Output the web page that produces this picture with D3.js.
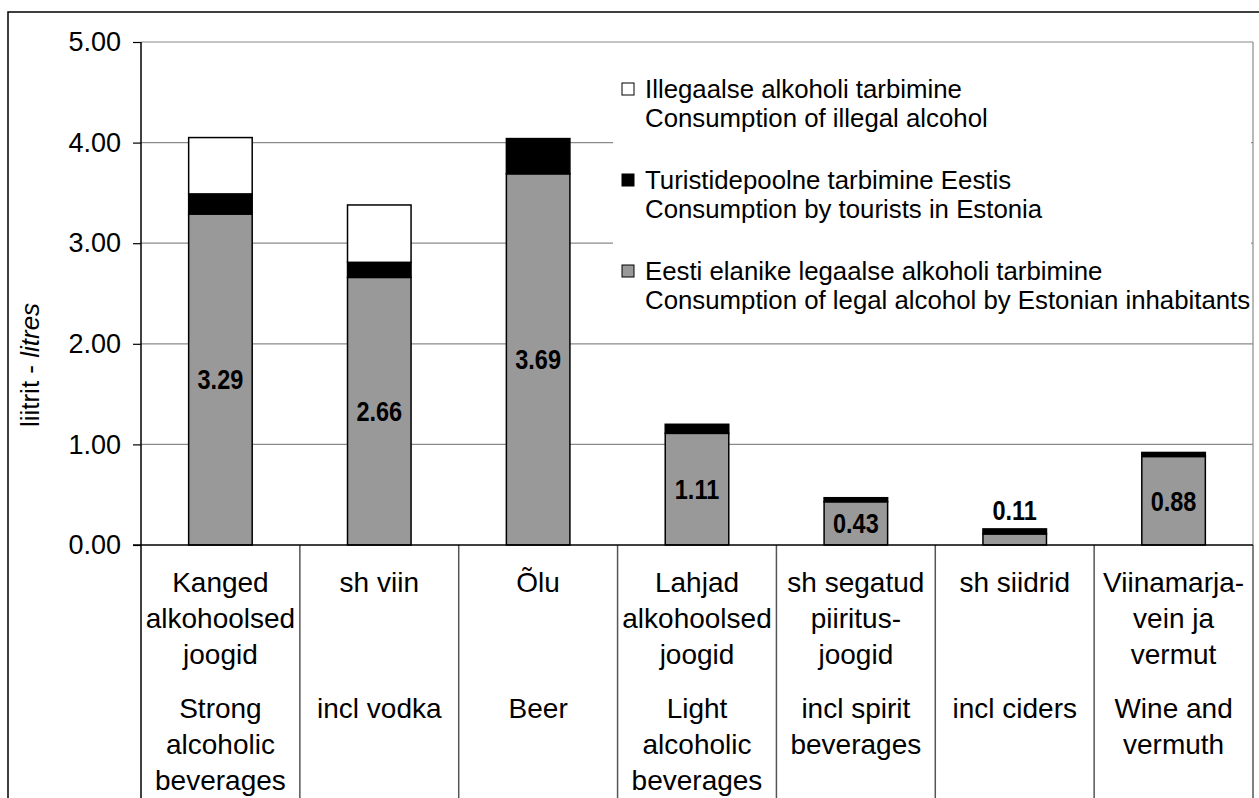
<!DOCTYPE html>
<html><head><meta charset="utf-8">
<script src="https://cdn.jsdelivr.net/npm/d3@7"></script>
<style>html,body{margin:0;padding:0;background:#fff;}svg{display:block;font-family:"Liberation Sans",Arial,sans-serif;}</style>
</head><body>
<svg id="chart" width="1259" height="798"></svg>
<script>
const categoriesEt = [["Kanged","alkohoolsed","joogid"],["sh viin"],["Õlu"],["Lahjad","alkohoolsed","joogid"],["sh segatud","piiritus-","joogid"],["sh siidrid"],["Viinamarja-","vein ja","vermut"]];
const categoriesEn = [["Strong","alcoholic","beverages"],["incl vodka"],["Beer"],["Light","alcoholic","beverages"],["incl spirit","beverages"],["incl ciders"],["Wine and","vermuth"]];
const legalValues = [3.29, 2.66, 3.69, 1.11, 0.43, 0.11, 0.88];
const touristValues = [0.20, 0.15, 0.35, 0.09, 0.04, 0.05, 0.04];
const illegalValues = [0.56, 0.57, 0, 0, 0, 0, 0];
const yTicks = [0, 1, 2, 3, 4, 5];
const seriesNames = [
  ["Illegaalse alkoholi tarbimine","Consumption of illegal alcohol"],
  ["Turistidepoolne tarbimine Eestis","Consumption by tourists in Estonia"],
  ["Eesti elanike legaalse alkoholi tarbimine","Consumption of legal alcohol by Estonian inhabitants"]
];
const seriesColors = ["#ffffff", "#000000", "#999999"];

(function () {
const svg = d3.select("#chart");
const pLeft = 141, pRight = 1253, pTop = 42, pBottom = 545;
const y = d3.scaleLinear().domain([0, 5]).range([pBottom, pTop]);
const x = d3.scaleBand().domain(d3.range(categoriesEt.length)).range([pLeft, pRight]).padding(0);
const bw = x.bandwidth() * 0.4;

// outer border
svg.append("rect").attr("x", 8).attr("y", 12).attr("width", 1270).attr("height", 820)
  .attr("fill", "none").attr("stroke", "#000").attr("stroke-width", 1.5);

// gridlines
svg.append("g").selectAll("line").data(yTicks.filter(d => d > 0)).join("line")
  .attr("x1", pLeft).attr("x2", pRight).attr("y1", d => y(d)).attr("y2", d => y(d))
  .attr("stroke", "#8a8a8a").attr("stroke-width", 1.2);
svg.append("line").attr("x1", pRight).attr("x2", pRight).attr("y1", pTop).attr("y2", pBottom)
  .attr("stroke", "#8a8a8a").attr("stroke-width", 1.2);

// y axis
const yAxis = d3.axisLeft(y).tickValues(yTicks).tickFormat(d3.format(".2f")).tickSize(8).tickPadding(12);
const ga = svg.append("g").attr("transform", `translate(${pLeft},0)`).call(yAxis);
ga.select(".domain").remove();
ga.selectAll(".tick line").attr("stroke", "#000").attr("stroke-width", 1.2);
ga.selectAll(".tick text").attr("font-size", 27).attr("font-family", "Liberation Sans, Arial, sans-serif").attr("fill", "#000");
svg.append("line").attr("x1", pLeft).attr("x2", pLeft).attr("y1", pTop).attr("y2", 798).attr("stroke", "#000").attr("stroke-width", 1.5);

// category dividers
svg.append("g").selectAll("line").data(d3.range(1, categoriesEt.length + 1)).join("line")
  .attr("x1", d => pLeft + d * x.bandwidth()).attr("x2", d => pLeft + d * x.bandwidth())
  .attr("y1", pBottom).attr("y2", 798).attr("stroke", "#555").attr("stroke-width", 1.5);

// legend
const lg = svg.append("g");
lg.append("rect").attr("x", 613).attr("y", 60).attr("width", 638).attr("height", 260).attr("fill", "#fff");
const legendTop = [89, 180, 271];
seriesNames.forEach((nm, i) => {
  lg.append("rect").attr("x", 622).attr("y", legendTop[i] - 6).attr("width", 12).attr("height", 12)
    .attr("fill", seriesColors[i]).attr("stroke", "#000").attr("stroke-width", 1);
  nm.forEach((t, j) => {
    lg.append("text").attr("x", 645).attr("y", legendTop[i] + j * 29).attr("dy", "0.35em")
      .attr("font-size", 25.8).text(t);
  });
});

// bars
const stacks = [legalValues, touristValues, illegalValues];
const stackColors = ["#999999", "#000000", "#ffffff"];
const bars = svg.append("g");
legalValues.forEach((v, i) => {
  let base = 0;
  stacks.forEach((s, k) => {
    const val = s[i];
    if (val > 0) {
      bars.append("rect").attr("x", x(i) + (x.bandwidth() - bw) / 2).attr("width", bw)
        .attr("y", y(base + val)).attr("height", y(base) - y(base + val))
        .attr("fill", stackColors[k]).attr("stroke", "#000").attr("stroke-width", 1.5);
    }
    base += val;
  });
});
// baseline
svg.append("line").attr("x1", pLeft - 8).attr("x2", pRight).attr("y1", pBottom).attr("y2", pBottom).attr("stroke", "#000").attr("stroke-width", 1.5);

// value labels (condensed bold)
legalValues.forEach((v, i) => {
  const cx = x(i) + x.bandwidth() / 2;
  const inside = (y(0) - y(v)) > 30;
  const ly = inside ? (y(0) + y(v)) / 2 : y(v + touristValues[i]) - 19;
  svg.append("text").attr("transform", `translate(${cx},${ly}) scale(0.84,1)`)
    .attr("dy", "0.35em").attr("text-anchor", "middle")
    .attr("font-size", 28).attr("font-weight", "bold").text(d3.format(".2f")(v));
});

// category labels
const catFS = 28, pitch = 36;
categoriesEt.forEach((lines, i) => {
  const cx = x(i) + x.bandwidth() / 2;
  lines.forEach((t, j) => svg.append("text").attr("x", cx).attr("y", 592 + j * pitch)
    .attr("text-anchor", "middle").attr("font-size", catFS).text(t));
  categoriesEn[i].forEach((t, j) => svg.append("text").attr("x", cx).attr("y", 718 + j * pitch)
    .attr("text-anchor", "middle").attr("font-size", catFS).text(t));
});

// y title
const yt = svg.append("text").attr("transform", "translate(30,365) rotate(-90)").attr("text-anchor", "middle")
  .attr("dy", "0.35em").attr("font-size", 26);
yt.append("tspan").text("liitrit - ");
yt.append("tspan").attr("font-style", "italic").text("litres");
})();
</script>
</body></html>
